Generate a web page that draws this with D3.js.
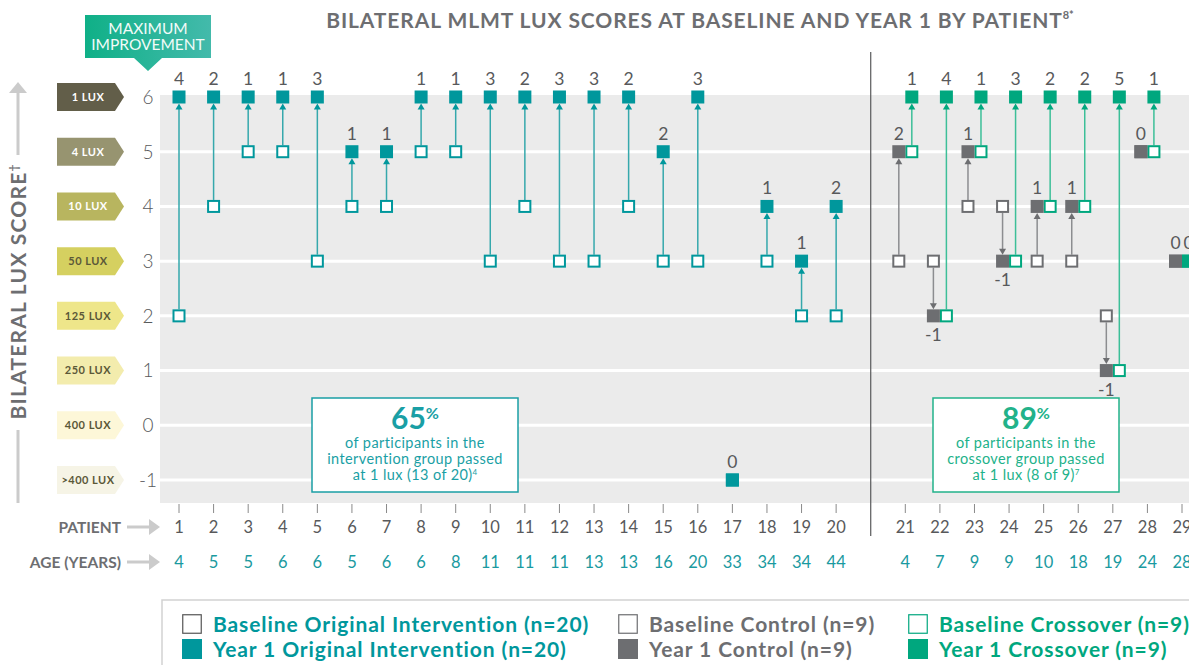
<!DOCTYPE html>
<html>
<head>
<meta charset="utf-8">
<script src="https://cdn.jsdelivr.net/npm/d3@7"></script>
<style>
body { margin: 0; background: #fff; }
svg { display: block; font-family: Lato, "Open Sans", sans-serif; }
</style>
</head>
<body>
<svg width="1189" height="665"></svg>
<script>
// original intervention group, patients 1-20
var intPatients = d3.range(1, 21);
var intAges = [4, 5, 5, 6, 6, 5, 6, 6, 8, 11, 11, 11, 13, 13, 16, 20, 33, 34, 34, 44];
var intBaseline = [2, 4, 5, 5, 3, 4, 4, 5, 5, 3, 4, 3, 3, 4, 3, 3, -1, 3, 2, 2];
var intYear1 = [6, 6, 6, 6, 6, 5, 5, 6, 6, 6, 6, 6, 6, 6, 5, 6, -1, 4, 3, 4];

// control group, then crossover, patients 21-29
var ctlPatients = d3.range(21, 30);
var ctlAges = [4, 7, 9, 9, 10, 18, 19, 24, 28];
var ctlBaseline = [3, 3, 4, 4, 3, 3, 2, 5, 3];
var ctlYear1 = [5, 2, 5, 3, 4, 4, 1, 5, 3];      // = crossover baseline
var xoYear1 = [6, 6, 6, 6, 6, 6, 6, 6, 3];

var scores = [6, 5, 4, 3, 2, 1, 0, -1];
var luxLabels = ["1 LUX", "4 LUX", "10 LUX", "50 LUX", "125 LUX", "250 LUX", "400 LUX", ">400 LUX"];
var luxFill = ["#625e49", "#979470", "#b8b55f", "#d5d060", "#eee68a", "#f3ecad", "#fdf7d8", "#f6f4e6"];
var luxInk = ["#fff", "#fff", "#fff", "#5b5838", "#5b5838", "#5b5838", "#5b5838", "#5b5838"];

var legendItems = [
  {label: "Baseline Original Intervention (n=20)", kind: "open", color: "#00979c", col: 0, row: 0},
  {label: "Year 1 Original Intervention (n=20)", kind: "fill", color: "#00979c", col: 0, row: 1},
  {label: "Baseline Control (n=9)", kind: "open", color: "#6d6e71", col: 1, row: 0},
  {label: "Year 1 Control (n=9)", kind: "fill", color: "#6d6e71", col: 1, row: 1},
  {label: "Baseline Crossover (n=9)", kind: "open", color: "#00a77e", col: 2, row: 0},
  {label: "Year 1 Crossover (n=9)", kind: "fill", color: "#00a77e", col: 2, row: 1}
];

var TEAL = "#00979c", GREY = "#6d6e71", GREEN = "#00a77e";
var INK = "#58595b";

var svg = d3.select("svg");

// slot index: a blank slot separates the two groups
function slot(p) { return p <= 20 ? p - 1 : p; }
var x = d3.scaleLinear().domain([0, 29]).range([179, 1182]);
var y = d3.scaleLinear().domain([-1, 6]).range([480, 97]);
var S = 13, H = S / 2;

// ---- grey plot band + gridlines
svg.append("rect")
  .attr("x", 160).attr("y", y(6) - 2)
  .attr("width", 1189 - 160).attr("height", 503 - (y(6) - 2))
  .attr("fill", "#ebebeb");

svg.append("g").selectAll("line")
  .data(scores.filter(function (s) { return s < 6; }))
  .enter().append("line")
  .attr("x1", 160).attr("x2", 1189)
  .attr("y1", function (d) { return y(d); })
  .attr("y2", function (d) { return y(d); })
  .attr("stroke", "#fff").attr("stroke-width", 3);

// ---- title
var title = svg.append("text")
  .attr("x", 700).attr("y", 28)
  .attr("text-anchor", "middle")
  .attr("font-size", 21).attr("font-weight", 700)
  .attr("letter-spacing", 0.9)
  .attr("fill", GREY)
  .text("BILATERAL MLMT LUX SCORES AT BASELINE AND YEAR 1 BY PATIENT");
title.append("tspan").attr("font-size", 11).attr("letter-spacing", 0).attr("dy", -9).text("8*");

// ---- maximum improvement badge
var defs = svg.append("defs");
var grad = defs.append("linearGradient").attr("id", "maxgrad");
grad.append("stop").attr("offset", "0%").attr("stop-color", "#0fb087");
grad.append("stop").attr("offset", "100%").attr("stop-color", "#43baab");

svg.append("path")
  .attr("d", "M85,15 H211 V58 H162 L148,71 L134,58 H85 Z")
  .attr("fill", "url(#maxgrad)");
svg.append("text").attr("x", 148).attr("y", 34).attr("text-anchor", "middle")
  .attr("font-size", 15.5).attr("fill", "#f2fbf8").text("MAXIMUM");
svg.append("text").attr("x", 148).attr("y", 50).attr("text-anchor", "middle")
  .attr("font-size", 15.5).attr("fill", "#f2fbf8").text("IMPROVEMENT");

// ---- y axis: lux badges and score numbers
var badge = svg.append("g").selectAll("g")
  .data(scores)
  .enter().append("g")
  .attr("transform", function (d) { return "translate(0," + y(d) + ")"; });

badge.append("path")
  .attr("d", "M57,-14 H115 L124,0 L115,14 H57 Z")
  .attr("fill", function (d, i) { return luxFill[i]; });
badge.append("text")
  .attr("x", 88).attr("dy", "0.35em")
  .attr("text-anchor", "middle")
  .attr("font-size", 11).attr("font-weight", 700)
  .attr("letter-spacing", 0.5)
  .attr("fill", function (d, i) { return luxInk[i]; })
  .text(function (d, i) { return luxLabels[i]; });
badge.append("text")
  .attr("x", 148).attr("dy", "0.36em")
  .attr("text-anchor", "middle")
  .attr("font-size", 19).attr("font-weight", 300)
  .attr("fill", INK)
  .text(function (d) { return d; });

// y axis title with arrow
svg.append("line").attr("x1", 18).attr("x2", 18).attr("y1", 155).attr("y2", 92)
  .attr("stroke", "#cbcbcb").attr("stroke-width", 3);
svg.append("path").attr("d", "M9,93 L18,82 L27,93 Z").attr("fill", "#cbcbcb");
svg.append("line").attr("x1", 18).attr("x2", 18).attr("y1", 430).attr("y2", 503)
  .attr("stroke", "#cbcbcb").attr("stroke-width", 3);
var ytitle = svg.append("text")
  .attr("transform", "translate(26,292) rotate(-90)")
  .attr("text-anchor", "middle")
  .attr("font-size", 21).attr("font-weight", 700)
  .attr("letter-spacing", 1.2)
  .attr("fill", GREY)
  .text("BILATERAL LUX SCORE");
ytitle.append("tspan").attr("font-size", 12).attr("letter-spacing", 0).attr("dy", -8).text("\u2020");

// ---- divider between groups
svg.append("line")
  .attr("x1", x(20)).attr("x2", x(20))
  .attr("y1", 52).attr("y2", 536)
  .attr("stroke", "#58595b").attr("stroke-width", 1.2);

// ---- patient ticks, numbers, ages
var allPatients = intPatients.concat(ctlPatients);
var allAges = intAges.concat(ctlAges);

svg.append("g").selectAll("line")
  .data(allPatients)
  .enter().append("line")
  .attr("x1", function (d) { return x(slot(d)); })
  .attr("x2", function (d) { return x(slot(d)); })
  .attr("y1", 504).attr("y2", 513)
  .attr("stroke", "#8a8a8a").attr("stroke-width", 1);

svg.append("g").selectAll("text")
  .data(allPatients)
  .enter().append("text")
  .attr("x", function (d) { return x(slot(d)); })
  .attr("y", 533)
  .attr("text-anchor", "middle")
  .attr("font-size", 16.5).attr("fill", INK)
  .text(function (d) { return d; });

svg.append("g").selectAll("text")
  .data(allPatients)
  .enter().append("text")
  .attr("x", function (d) { return x(slot(d)); })
  .attr("y", 568)
  .attr("text-anchor", "middle")
  .attr("font-size", 16.5).attr("fill", "#1a9aa0")
  .text(function (d, i) { return allAges[i]; });

function rowLabel(text, yy) {
  svg.append("text").attr("x", 121).attr("y", yy + 5.5)
    .attr("text-anchor", "end")
    .attr("font-size", 15.5).attr("font-weight", 700)
    .attr("fill", GREY).text(text);
  svg.append("line").attr("x1", 127).attr("x2", 150).attr("y1", yy).attr("y2", yy)
    .attr("stroke", "#cbcbcb").attr("stroke-width", 3);
  svg.append("path").attr("d", "M149," + (yy - 8) + " L160," + yy + " L149," + (yy + 8) + " Z")
    .attr("fill", "#cbcbcb");
}
rowLabel("PATIENT", 527);
rowLabel("AGE (YEARS)", 562);

// ---- marks
// build one row per displayed pair
var pairs = [];
intPatients.forEach(function (p, i) {
  pairs.push({x: x(slot(p)), from: intBaseline[i], to: intYear1[i], color: TEAL, line: "#35a8ac"});
});
ctlPatients.forEach(function (p, i) {
  pairs.push({x: x(slot(p)) - 6.5, from: ctlBaseline[i], to: ctlYear1[i], color: GREY, line: "#8c8d90"});
  pairs.push({x: x(slot(p)) + 6.5, from: ctlYear1[i], to: xoYear1[i], color: GREEN, line: "#3cbf98"});
});

var marks = svg.append("g");

// connecting lines with arrowheads
var moved = pairs.filter(function (d) { return d.from !== d.to; });
marks.selectAll("line.link")
  .data(moved)
  .enter().append("line")
  .attr("class", "link")
  .attr("x1", function (d) { return d.x; })
  .attr("x2", function (d) { return d.x; })
  .attr("y1", function (d) { var s = d.to > d.from ? -1 : 1; return y(d.from) + s * H; })
  .attr("y2", function (d) { var s = d.to > d.from ? 1 : -1; return y(d.to) + s * (H + 4); })
  .attr("stroke", function (d) { return d.line; })
  .attr("stroke-width", 1.5);

marks.selectAll("path.head")
  .data(moved)
  .enter().append("path")
  .attr("class", "head")
  .attr("d", function (d) {
    var s = d.to > d.from ? 1 : -1;
    var tip = y(d.to) + s * H;
    var base = tip + s * 6;
    return "M" + d.x + "," + tip + " L" + (d.x - 3.5) + "," + base + " L" + (d.x + 3.5) + "," + base + " Z";
  })
  .attr("fill", function (d) { return d.color; });

// baseline (open) squares
marks.selectAll("rect.base")
  .data(pairs)
  .enter().append("rect")
  .attr("class", "base")
  .attr("x", function (d) { return d.x - H + 1; })
  .attr("y", function (d) { return y(d.from) - H + 1; })
  .attr("width", S - 2).attr("height", S - 2)
  .attr("fill", "#fff")
  .attr("stroke", function (d) { return d.color; })
  .attr("stroke-width", 2);

// year 1 (filled) squares
marks.selectAll("rect.y1")
  .data(pairs)
  .enter().append("rect")
  .attr("class", "y1")
  .attr("x", function (d) { return d.x - H; })
  .attr("y", function (d) { return y(d.to) - H; })
  .attr("width", S).attr("height", S)
  .attr("fill", function (d) { return d.color; });

// change labels
marks.selectAll("text.chg")
  .data(pairs)
  .enter().append("text")
  .attr("class", "chg")
  .attr("x", function (d) { return d.x; })
  .attr("y", function (d) { return d.to - d.from < 0 ? y(d.to) + 25 : y(d.to) - 12; })
  .attr("text-anchor", "middle")
  .attr("font-size", 17.5)
  .attr("fill", INK)
  .text(function (d) { return d.to - d.from; });

// ---- callout boxes
function callout(cx, w, color, big, lines, sup) {
  var g = svg.append("g");
  g.append("rect")
    .attr("x", cx - w / 2).attr("y", 398).attr("width", w).attr("height", 94)
    .attr("fill", "#fff").attr("stroke", color).attr("stroke-width", 1.5);
  var t = g.append("text").attr("x", cx).attr("y", 429).attr("text-anchor", "middle")
    .attr("font-size", 30).attr("font-weight", 700).attr("fill", color).text(big);
  t.append("tspan").attr("font-size", 16).attr("dy", -10).text("%");
  lines.forEach(function (l, i) {
    var tl = g.append("text").attr("x", cx).attr("y", 448 + i * 16).attr("text-anchor", "middle")
      .attr("font-size", 14.5).attr("letter-spacing", 0.4).attr("fill", color).text(l);
    if (i === lines.length - 1) tl.append("tspan").attr("font-size", 8).attr("letter-spacing", 0).attr("dy", -5).text(sup);
  });
}
callout(415, 206, "#1a9fa5", "65", ["of participants in the", "intervention group passed", "at 1 lux (13 of 20)"], "4");
callout(1026, 186, "#22b28a", "89", ["of participants in the", "crossover group passed", "at 1 lux (8 of 9)"], "7");

// ---- legend
svg.append("rect")
  .attr("x", 162).attr("y", 600).attr("width", 1100).attr("height", 90)
  .attr("fill", "#fff").attr("stroke", "#d2d2d2").attr("stroke-width", 1.5);

var colX = [182, 618, 908];
var leg = svg.append("g").selectAll("g")
  .data(legendItems)
  .enter().append("g")
  .attr("transform", function (d) { return "translate(" + colX[d.col] + "," + (624 + d.row * 25) + ")"; });

leg.append("rect")
  .attr("x", function (d) { return d.kind === "open" ? 0.75 : 0; })
  .attr("y", function (d) { return d.kind === "open" ? -9.25 : -10; })
  .attr("width", function (d) { return d.kind === "open" ? 18.5 : 20; })
  .attr("height", function (d) { return d.kind === "open" ? 18.5 : 20; })
  .attr("fill", function (d) { return d.kind === "open" ? "#fff" : d.color; })
  .attr("stroke", function (d) { return d.kind === "open" ? (d.col === 0 ? "#555" : d.color) : "none"; })
  .attr("stroke-width", 1.2);

leg.append("text")
  .attr("x", 31).attr("dy", "0.36em")
  .attr("font-size", 21).attr("font-weight", 700)
  .attr("letter-spacing", 0.9)
  .attr("fill", function (d) { return d.color; })
  .text(function (d) { return d.label; });
</script>
</body>
</html>
